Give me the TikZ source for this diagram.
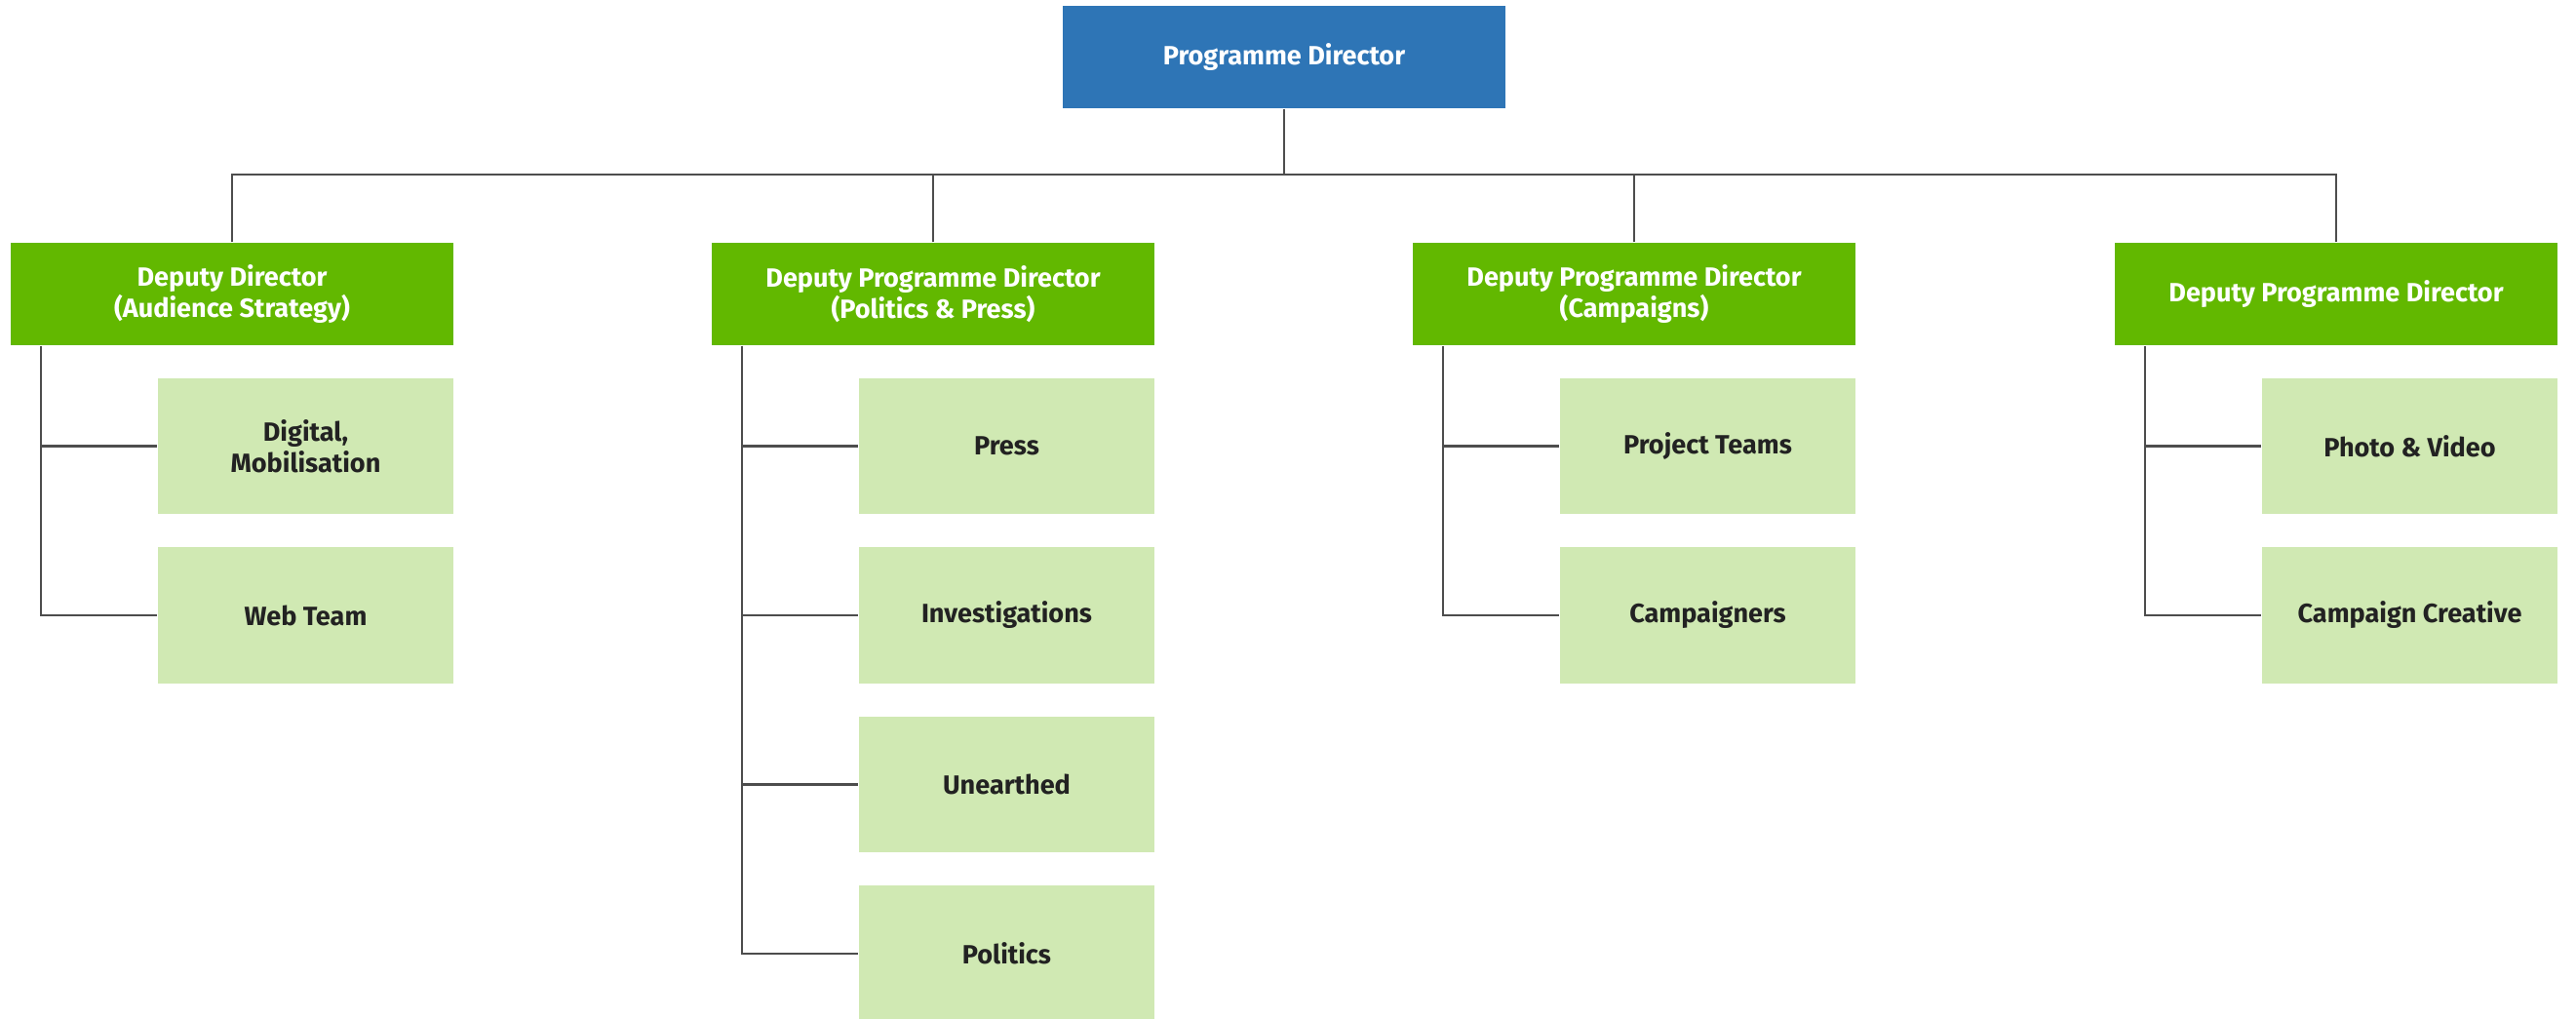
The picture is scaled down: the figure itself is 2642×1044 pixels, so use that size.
\documentclass[tikz,border=0pt]{standalone}
\usepackage{fontspec}
\setmainfont{Fira Sans}
\usepackage{xcolor}
\usepackage{tikz}
\definecolor{headblue}{HTML}{2E75B6}
\definecolor{deputygreen}{HTML}{62B800}
\definecolor{teamgreen}{HTML}{D0E9B3}
\definecolor{linegray}{HTML}{4D4D4D}
\definecolor{textdark}{HTML}{222222}
\tikzset{
    box/.style={inner sep=0pt, align=center, font=\fontsize{7.7}{9.1}\selectfont\bfseries},
    director/.style={box, fill=headblue, text=white, minimum width=4.54cm, minimum height=1.05cm},
    deputy/.style={box, fill=deputygreen, text=white, minimum width=4.54cm, minimum height=1.05cm},
    team/.style={box, fill=teamgreen, text=textdark, minimum width=3.03cm, minimum height=1.39cm},
    link/.style={draw=linegray, line width=0.65pt}}
\usetikzlibrary{calc}

\begin{document}
\begin{tikzpicture}[x=0.01cm, y=-0.01cm]
    \useasboundingbox (0,0) rectangle (2642,1044);
    \node[director] (pd) at (1317,58.5) {Programme Director};
    \coordinate (bar) at (1317,179);
    \node[deputy] (dep1) at (238,301.5) {Deputy Director\\(Audience Strategy)};
    \node[deputy] (dep2) at (957,301.5) {Deputy Programme Director\\(Politics \& Press)};
    \node[deputy] (dep3) at (1676,301.5) {Deputy Programme Director\\(Campaigns)};
    \node[deputy] (dep4) at (2396,301.5) {Deputy Programme Director};
    \draw[link] (pd.south) -- (bar);
    \foreach \k in {1,...,4}
      \draw[link] (dep\k.north) |- (bar);
    % teams hang off a rail on the left of each deputy
    \foreach \name/\k/\r/\txt in {digital/1/1/{Digital,\\Mobilisation}, web/1/2/{Web Team},
        press/2/1/{Press}, invest/2/2/{Investigations}, unearthed/2/3/{Unearthed}, politics/2/4/{Politics},
        projects/3/1/{Project Teams}, campaigners/3/2/{Campaigners},
        photo/4/1/{Photo \& Video}, creative/4/2/{Campaign Creative}} {
      \node[team] (\name) at ($(dep\k.center)+(75.5,{156+173.5*(\r-1)})$) {\txt};
      \draw[link] ([xshift=0.32cm]dep\k.south west) |- (\name.west);
    }
\end{tikzpicture}
\end{document}
